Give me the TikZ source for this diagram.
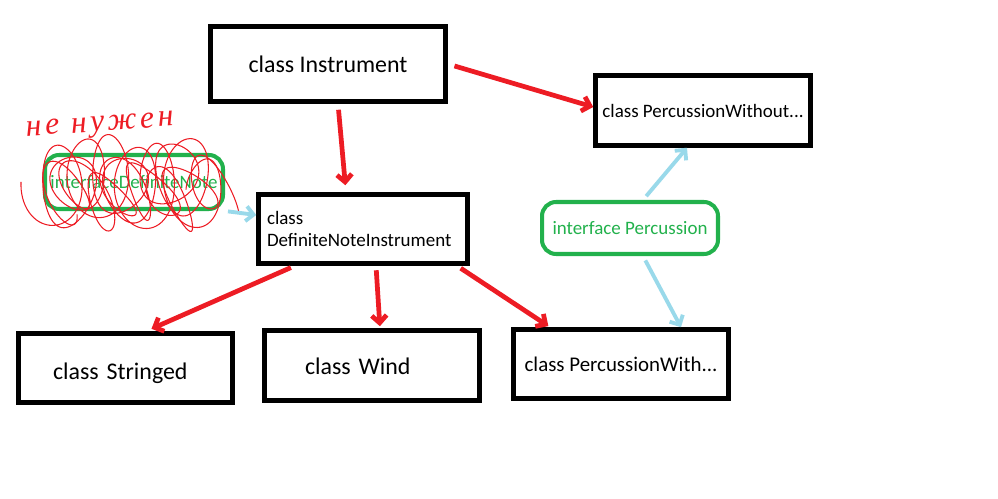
\documentclass[tikz,border=0pt]{standalone}
\usepackage{fontspec}
\setmainfont{Carlito}
\newfontfamily\handfont[LetterSpace=12]{Liberation Serif}
\usetikzlibrary{arrows.meta}
\definecolor{paintRed}{RGB}{237,28,36}
\definecolor{paintGreen}{RGB}{34,177,76}
\definecolor{paintBlue}{RGB}{153,217,234}
\tikzset{
  clsbox/.style={draw,line width=2.6pt,fill=white,inner sep=0pt,
                 font=\fontsize{13.6}{16}\selectfont},
  smallcls/.style={clsbox,font=\fontsize{10.8}{13}\selectfont},
  lowtext/.style={align=left,text width=#1,text depth=0pt},
  ifbox/.style={draw=paintGreen,line width=2.3pt,rounded corners=8pt,inner sep=0pt,
                text=paintGreen,font=\fontsize{10.8}{13}\selectfont},
  arr/.style={-{Straight Barb[angle=90:6pt]},line width=2.7pt,paintRed},
  iarr/.style={-{Straight Barb[angle=90:6pt]},line width=2.2pt,paintBlue},
  scribble/.style={paintRed,line width=0.6pt},
}

\begin{document}
\begin{tikzpicture}[x=0.02cm,y=-0.02cm]
  \useasboundingbox (0,0) rectangle (998,499);
  % classes
  \node[clsbox,minimum width=4.70cm,minimum height=1.50cm] (inst) at (328,64) {class Instrument};
  \node[smallcls,minimum width=4.30cm,minimum height=1.40cm] (pwo) at (703,110.5) {class PercussionWithout...};
  \node[smallcls,inner xsep=0.17cm,text width=3.84cm,minimum height=1.38cm,align=left] (dni) at (363,229) {class\\DefiniteNoteInstrument};
  \node[clsbox,lowtext=2.90cm,text height=13.6pt,minimum width=4.28cm,minimum height=1.38cm] (str) at (125.5,368) {class Stringed};
  \node[clsbox,lowtext=2.68cm,text height=10.8pt,minimum width=4.30cm,minimum height=1.40cm] (wnd) at (372,365.5) {class Wind};
  \node[clsbox,minimum width=4.30cm,minimum height=1.38cm,font=\fontsize{11.9}{14}\selectfont] (pw) at (621,364) {class PercussionWith...};
  % interfaces
  \node[ifbox,minimum width=3.52cm,minimum height=1.04cm] (ifp) at (630,228) {interface Percussion};
  \node[ifbox,minimum width=3.56cm,minimum height=1.08cm] (ifd) at (134,182) {interfaceDefiniteNote};

  % crossed out
  \draw[scribble] plot[domain=0:3600,samples=600]
    ({45+\x/3600*165+(24+6*sin(0.7*\x))*cos(\x+180)},{182+(36+8*sin(0.37*\x))*sin(\x)+8*sin(0.23*\x)});
  \draw[scribble] plot[domain=0:2880,samples=480]
    ({52+\x/2880*165+(20+5*cos(0.6*\x))*cos(\x)},{192+(28+7*cos(0.5*\x))*sin(\x+40)-6*sin(0.3*\x)});
  \node[paintRed,rotate=4,font=\handfont\itshape\fontsize{18}{20}\selectfont] (nn) at (100,127) {не нужен};

  % inheritance
  \draw[arr,shorten <=0.12cm,shorten >=0.14cm] ([xshift=0.2cm]inst.south) -- ([xshift=-0.34cm]dni.north);
  \draw[arr,shorten <=0.14cm] (inst.east) -- ([yshift=0.07cm]pwo.west);
  \draw[arr,shorten <=0.09cm,shorten >=0.12cm] ([xshift=-1.36cm]dni.south) -- ([xshift=0.41cm]str.north);
  \draw[arr,shorten <=0.09cm,shorten >=0.04cm] ([xshift=0.26cm]dni.south) -- ([xshift=0.16cm]wnd.north);
  \draw[arr,shorten <=0.09cm,shorten >=0.04cm] ([xshift=1.88cm]dni.south) -- ([xshift=-1.42cm]pw.north);
  % implementation
  \draw[iarr,shorten <=0.06cm] (ifd.south east) -- ([yshift=0.28cm]dni.west);
  \draw[iarr,shorten <=0.1cm] ([xshift=0.26cm]ifp.north) -- ([xshift=-0.32cm]pwo.south);
  \draw[iarr,shorten <=0.1cm] ([xshift=0.26cm]ifp.south) -- ([xshift=1.2cm]pw.north);
\end{tikzpicture}
\end{document}
